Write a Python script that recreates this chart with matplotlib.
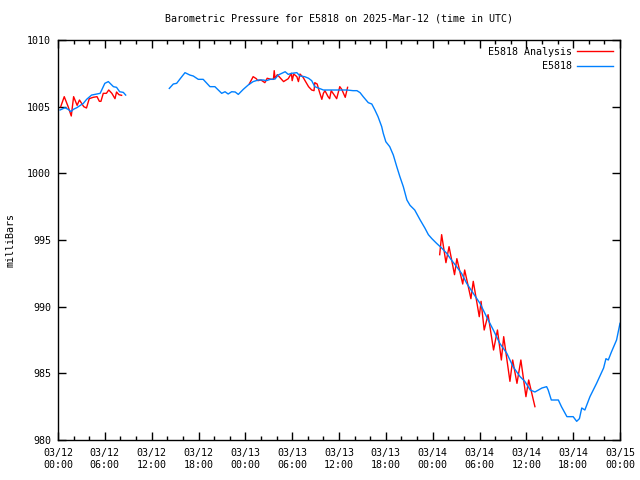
import matplotlib
matplotlib.use('Agg')
import matplotlib.pyplot as plt
from matplotlib.ticker import MultipleLocator, FuncFormatter

# hours since 2025-03-12 00:00 UTC, pressure in mb
nan = float('nan')
obs_hours = [0.26, 0.9, 1.3, 1.67, 1.97, 2.4, 3.25, 3.67, 4.3, 5.4, 5.6, 6.0, 6.45, 7.1, 7.5, 7.9, 8.37, 8.67,
             nan,
             14.26, 14.77, 15.2, 15.7, 16.27, 16.9, 17.33, 17.97, 18.6, 19.47, 20.1, 20.97, 21.4, 21.8, 22.25, 22.7,
             23.1, 23.74, 24.38, 25.0, 25.66, 26.3, 26.7, 27.2, 27.8, 28.2, 29.1, 29.5, 29.9, 30.6, 31.0, 31.6,
             32.1, 32.5, 32.9, 33.35, 34.0, 34.85, 35.7, 37.0, 37.8, 38.3, 38.7, 39.1, 39.75, 40.2, 40.6, 41.0,
             41.47, 41.67, 42.0, 42.5, 42.96, 43.4, 43.8, 44.24, 44.7, 45.1, 45.7, 46.4, 47.0, 47.45, 47.9, 48.5,
             49.15, 49.8, 50.4, 51.07, 51.7, 52.36, 53.2, 54.06, 54.9, 55.77, 56.6, 57.5, 58.3, 59.2, 59.8, 60.5,
             61.1, 62.0, 62.6, 62.8, 63.2, 64.1, 64.5, 65.2, 66.0, 66.45, 66.8, 67.1, 67.5, 68.15, 69.0, 69.9,
             70.2, 70.5, 70.9, 71.56, 72.0]
obs_mb = [1004.75, 1004.92, 1004.8, 1004.63, 1004.8, 1004.92, 1005.25, 1005.55, 1005.87, 1006.0, 1006.25, 1006.75,
          1006.88, 1006.5, 1006.45, 1006.12, 1006.07, 1005.87,
          nan,
          1006.37, 1006.7, 1006.75, 1007.13, 1007.55, 1007.37, 1007.3, 1007.05, 1007.05, 1006.5, 1006.5, 1006.0,
          1006.12, 1005.95, 1006.12, 1006.1, 1005.92, 1006.3, 1006.63, 1006.88, 1007.0, 1007.0, 1006.95, 1007.05,
          1007.07, 1007.37, 1007.62, 1007.42, 1007.5, 1007.55, 1007.3, 1007.25, 1007.13, 1006.95, 1006.5, 1006.4,
          1006.25, 1006.25, 1006.25, 1006.25, 1006.2, 1006.2, 1006.05, 1005.75, 1005.3, 1005.2, 1004.75, 1004.25,
          1003.5, 1003.0, 1002.37, 1002.0, 1001.37, 1000.5, 999.75, 999.0, 998.0, 997.6, 997.25, 996.5, 995.9,
          995.4, 995.1, 994.75, 994.4, 994.0, 993.5, 993.0, 992.5, 991.75, 991.0, 990.25, 989.25, 988.25, 987.25,
          986.5, 985.5, 984.75, 984.4, 983.75, 983.6, 983.9, 984.0, 983.75, 983.0, 983.0, 982.5, 981.75, 981.75,
          981.4, 981.6, 982.4, 982.25, 983.25, 984.25, 985.4, 986.1, 986.0, 986.6, 987.5, 988.75]

ana_hours = [0.35, 0.8, 1.3, 1.7, 2.0, 2.45, 2.75, 3.3, 3.65, 4.0, 4.5, 5.0, 5.3, 5.5, 5.8, 6.2, 6.5, 6.9, 7.3,
             7.5, 7.8, 8.15,
             nan,
             24.5, 25.0, 25.4, 25.6, 26.0, 26.5, 26.8, 27.3, 27.6, 27.7, 27.8, 28.1, 28.9, 29.5, 29.9, 30.0, 30.2,
             30.6, 30.8, 31.0, 31.4, 31.7, 32.1, 32.5, 32.8, 32.9, 33.2, 33.5, 33.8, 34.0, 34.2, 34.6, 34.8, 35.0,
             35.3, 35.7, 36.1, 36.35, 36.8, 37.1,
             nan,
             48.9, 49.15, 49.7, 50.1, 50.8, 51.1, 51.85, 52.1, 52.9, 53.2, 53.97, 54.2, 54.6, 55.1, 55.8, 56.3,
             56.8, 57.1, 57.9, 58.25, 58.8, 59.3, 59.95, 60.3, 61.1]
ana_mb = [1005.0, 1005.75, 1005.0, 1004.3, 1005.75, 1005.1, 1005.5, 1005.0, 1004.9, 1005.6, 1005.7, 1005.75,
          1005.4, 1005.4, 1006.0, 1006.0, 1006.25, 1006.0, 1005.6, 1006.1, 1005.9, 1005.85,
          nan,
          1006.7, 1007.25, 1007.1, 1006.95, 1007.0, 1006.8, 1007.13, 1007.05, 1007.05, 1007.7, 1007.13, 1007.4,
          1006.88, 1007.1, 1007.5, 1006.95, 1007.45, 1007.25, 1006.88, 1007.45, 1007.2, 1006.9, 1006.5, 1006.25,
          1006.2, 1006.8, 1006.7, 1006.1, 1005.55, 1006.0, 1006.2, 1005.75, 1005.6, 1006.2, 1005.95, 1005.6,
          1006.5, 1006.3, 1005.7, 1006.45,
          nan,
          993.9, 995.4, 993.3, 994.5, 992.4, 993.6, 991.7, 992.75, 990.6, 991.9, 989.25, 990.4, 988.25, 989.4,
          986.75, 988.25, 986.0, 987.75, 984.4, 986.0, 984.25, 986.0, 983.25, 984.5, 982.5]

tick_dates = ['03/12', '03/12', '03/12', '03/12', '03/13', '03/13', '03/13', '03/13',
              '03/14', '03/14', '03/14', '03/14', '03/15']
tick_times = ['00:00', '06:00', '12:00', '18:00'] * 3 + ['00:00']

plt.rcParams['font.family'] = ['DejaVu Sans Mono']
plt.rcParams['font.size'] = 7.2

fig = plt.figure(figsize=(6.4, 4.8), dpi=100)
ax = fig.add_axes([58 / 640, 1 - 440 / 480, 562 / 640, 400 / 480])

ax.plot(ana_hours, ana_mb, color='#ff0000', lw=1.0, label='E5818 Analysis')
ax.plot(obs_hours, obs_mb, color='#0080ff', lw=1.0, label='E5818')

ax.set_xlim(0, 72)
ax.set_ylim(980, 1010)
ax.xaxis.set_major_locator(MultipleLocator(6))
ax.xaxis.set_minor_locator(MultipleLocator(2))
ax.yaxis.set_major_locator(MultipleLocator(5))
ax.xaxis.set_major_formatter(FuncFormatter(
    lambda v, p: tick_dates[int(round(v / 6))] + '\n' + tick_times[int(round(v / 6))]
    if 0 <= round(v / 6) < len(tick_dates) else ''))
ax.tick_params(which='both', direction='in', top=True, right=True, width=1, colors='black')
ax.tick_params(which='major', length=6)
ax.tick_params(axis='x', which='major', pad=6)
ax.tick_params(axis='y', which='major', pad=5)
ax.tick_params(which='minor', length=3)
for s in ax.spines.values():
    s.set_linewidth(1)

ax.set_ylabel('milliBars', labelpad=8)
ax.set_title('Barometric Pressure for E5818 on 2025-Mar-12 (time in UTC)', fontsize=7.2, pad=13)

leg = ax.legend(loc='upper right', frameon=False, markerfirst=False, handlelength=3.6,
                borderaxespad=0.3, labelspacing=0.45, handletextpad=0.5)
for t in leg.get_texts():
    t.set_ha('right')
leg._legend_box.align = 'right'

plt.savefig('out.png', dpi=100)
